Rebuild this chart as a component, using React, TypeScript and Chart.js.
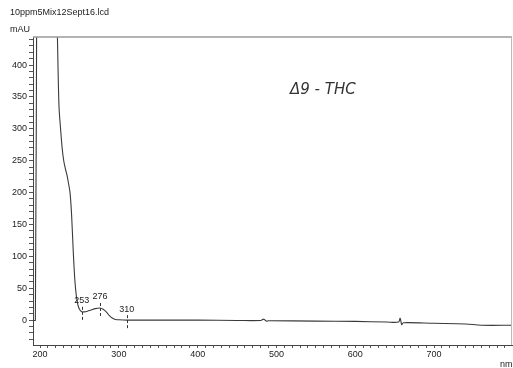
import React, { useEffect, useRef } from "react";
import { Chart, registerables } from "chart.js";

Chart.register(...registerables);

const TITLE = "10ppm5Mix12Sept16.lcd";
const Y_UNIT = "mAU";
const X_UNIT = "nm";
const NOTE = "Δ9 - THC";

const wavelengths = [
  190, 194, 196, 200, 210, 218, 222, 224, 226, 228, 230, 232, 234, 236, 238, 240, 242, 244, 246, 248,
  250, 253, 256, 260, 265, 270, 276, 280, 284, 288, 292, 296, 300, 310, 350, 400, 450, 480, 484, 487,
  490, 550, 600, 640, 655, 657, 659, 661, 700, 740, 760, 799,
];
const absorbance = [
  0, 0, 600, 800, 800, 700, 445, 335, 300, 270, 250, 238, 228, 215, 200, 165, 110, 65, 38, 24,
  17, 13, 13, 14, 16, 18, 19, 17, 13, 7, 3, 1, 0.5, 0, 0, 0, -0.5, -0.5, 1.5, -1.5,
  -1, -1.5, -2, -3, -3, 3, -7, -4, -5, -6, -8, -8,
];

const peakLabels = [253, 276, 310];
const peakValues = [13, 19, 0];

const X_MIN = 191;
const X_MAX = 799;
const Y_MIN = -39;
const Y_MAX = 444;

const FONT = "'Liberation Sans', Arial, sans-serif";

const overlayPlugin = {
  id: "overlay",
  afterDraw(chart: any) {
    const { ctx, chartArea, scales } = chart;
    const xs = scales.x;
    const ys = scales.y;
    ctx.save();
    // top frame
    ctx.strokeStyle = "#9a9a9a";
    ctx.lineWidth = 1.5;
    ctx.beginPath();
    ctx.moveTo(chartArea.left, chartArea.top);
    ctx.lineTo(chartArea.right, chartArea.top);
    ctx.stroke();
    // right frame
    ctx.strokeStyle = "#bbbbbb";
    ctx.lineWidth = 1;
    ctx.beginPath();
    ctx.moveTo(chartArea.right - 0.5, chartArea.top);
    ctx.lineTo(chartArea.right - 0.5, chartArea.bottom);
    ctx.stroke();

    // texts
    ctx.fillStyle = "#222";
    ctx.font = `9px ${FONT}`;
    ctx.textAlign = "left";
    ctx.textBaseline = "middle";
    ctx.fillText(TITLE, 10, 13);
    ctx.fillText(Y_UNIT, 10, 30);
    ctx.fillText(X_UNIT, 500, 365);

    // peak markers
    peakLabels.forEach((p, i) => {
      const px = xs.getPixelForValue(p);
      const py = ys.getPixelForValue(peakValues[i]);
      ctx.strokeStyle = "#333";
      ctx.lineWidth = 1;
      ctx.setLineDash([3, 2]);
      ctx.beginPath();
      ctx.moveTo(Math.round(px) + 0.5, py - 5);
      ctx.lineTo(Math.round(px) + 0.5, py + 10);
      ctx.stroke();
      ctx.setLineDash([]);
      ctx.fillStyle = "#222";
      ctx.font = `9px ${FONT}`;
      ctx.textAlign = "center";
      ctx.textBaseline = "middle";
      ctx.fillText(String(p), px, py - 11);
    });

    // handwritten note
    ctx.fillStyle = "#333";
    ctx.font = `italic 15px 'DejaVu Sans', sans-serif`;
    ctx.textAlign = "left";
    ctx.textBaseline = "alphabetic";
    ctx.fillText(NOTE, 290, 94);
    ctx.restore();
  },
};

export default function App() {
  const ref = useRef<HTMLCanvasElement | null>(null);
  useEffect(() => {
    if (!ref.current) return;
    const chart = new Chart(ref.current, {
      type: "line",
      data: {
        datasets: [
          {
            data: wavelengths.map((w, i) => ({ x: w, y: absorbance[i] })),
            borderColor: "#3a3a3a",
            borderWidth: 1.1,
            pointRadius: 0,
            tension: 0.3,
            fill: false,
          },
        ],
      },
      options: {
        responsive: false,
        animation: false,
        devicePixelRatio: 1,
        layout: { padding: { top: 37, right: 1, left: 0, bottom: 0 } },
        plugins: { legend: { display: false }, tooltip: { enabled: false } },
        scales: {
          x: {
            type: "linear",
            min: X_MIN,
            max: X_MAX,
            afterBuildTicks: (s: any) => {
              const t = [];
              for (let v = 200; v <= 790; v += 10) t.push({ value: v });
              s.ticks = t;
            },
            afterFit: (s: any) => {
              s.height = 23;
            },
            ticks: {
              autoSkip: false,
              maxRotation: 0,
              padding: 1,
              color: "#222",
              font: { family: FONT, size: 9 },
              callback: (v: any) => (Number(v) % 100 === 0 ? String(v) : ""),
            },
            grid: { drawOnChartArea: false, tickLength: 3, color: "#555" },
            border: { color: "#444", width: 1 },
          },
          y: {
            type: "linear",
            min: Y_MIN,
            max: Y_MAX,
            afterBuildTicks: (s: any) => {
              const t = [];
              for (let v = -30; v <= 440; v += 10) t.push({ value: v });
              s.ticks = t;
            },
            afterFit: (s: any) => {
              s.width = 33;
            },
            ticks: {
              autoSkip: false,
              padding: 2,
              color: "#222",
              font: { family: FONT, size: 9 },
              callback: (v: any) => (Number(v) % 50 === 0 ? String(v) : ""),
            },
            grid: { drawOnChartArea: false, tickLength: 4, color: "#555" },
            border: { color: "#444", width: 1 },
          },
        },
      },
      plugins: [overlayPlugin],
    } as any);
    return () => chart.destroy();
  }, []);
  return (
    <div style={{ position: "fixed", left: 0, top: 0, width: 513, height: 368, background: "#fff" }}>
      <canvas ref={ref} width={513} height={368} />
    </div>
  );
}
